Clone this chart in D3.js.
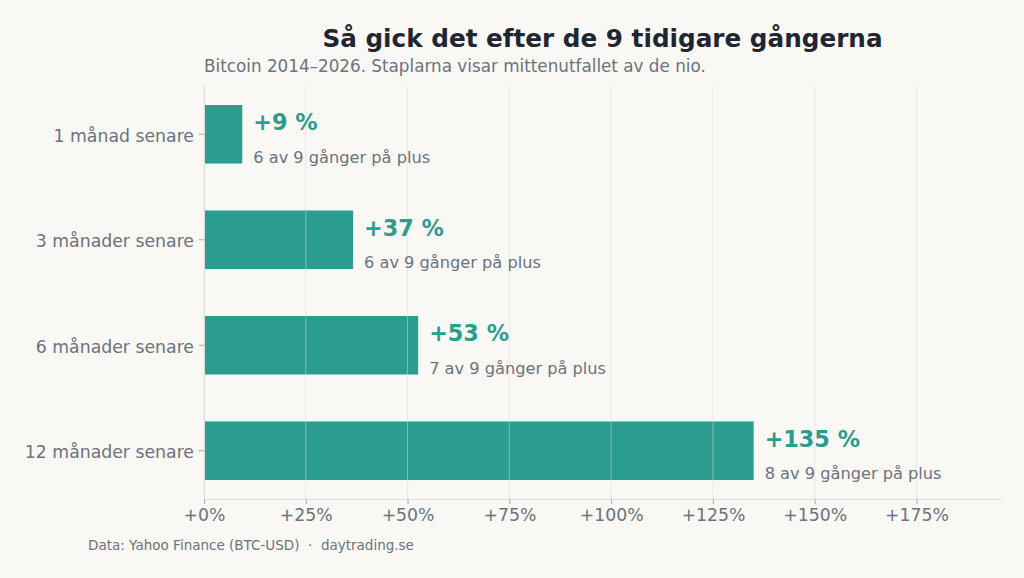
<!DOCTYPE html>
<html>
<head>
<meta charset="utf-8">
<script src="https://cdn.jsdelivr.net/npm/d3@7"></script>
<style>
  html, body { margin: 0; padding: 0; background: #f9f8f5; }
  svg { display: block; font-family: "DejaVu Sans", sans-serif; }
</style>
</head>
<body>
<svg id="chart"></svg>
<script>
// data
const categories = ["1 månad senare", "3 månader senare", "6 månader senare", "12 månader senare"];
const medianReturns = [9.4, 36.6, 52.6, 135.0];
const positiveCounts = [6, 6, 7, 8];
const totalCount = 9;
const xTicks = [0, 25, 50, 75, 100, 125, 150, 175];

const width = 1024, height = 578;
const margin = { top: 86, right: 23, bottom: 79, left: 204 };
const innerW = width - margin.left - margin.right;
const innerH = height - margin.top - margin.bottom;

const teal = "#2a9d8f";
const grey = "#6b7280";

const svg = d3.select("#chart").attr("width", width).attr("height", height);

svg.append("rect").attr("width", width).attr("height", height).attr("fill", "#f9f8f5");

// titel
svg.append("text")
  .attr("x", margin.left + innerW / 2)
  .attr("y", 47)
  .attr("text-anchor", "middle")
  .attr("font-size", 24.7)
  .attr("font-weight", "bold")
  .attr("fill", "#1f2633")
  .text("Så gick det efter de 9 tidigare gångerna");

svg.append("text")
  .attr("x", margin.left)
  .attr("y", 72)
  .attr("font-size", 16.8)
  .attr("fill", grey)
  .text("Bitcoin 2014–2026. Staplarna visar mittenutfallet av de nio.");

const g = svg.append("g").attr("transform", `translate(${margin.left},${margin.top})`);

// skalor
const x = d3.scaleLinear()
  .domain([0, d3.max(medianReturns) * 1.45])
  .range([0, innerW]);

const y = d3.scaleBand()
  .domain(categories)
  .range([0, innerH])
  .paddingInner(0.445)
  .paddingOuter(0.18);

const rows = categories.map((c, i) => ({
  cat: c, val: medianReturns[i], pos: positiveCounts[i]
}));

// staplar
g.selectAll("rect.bar")
  .data(rows)
  .join("rect")
  .attr("class", "bar")
  .attr("x", 0)
  .attr("y", d => y(d.cat))
  .attr("width", d => x(d.val))
  .attr("height", y.bandwidth())
  .attr("fill", teal);

// rutnät ovanpå staplarna
g.selectAll("line.grid")
  .data(xTicks)
  .join("line")
  .attr("class", "grid")
  .attr("x1", d => x(d)).attr("x2", d => x(d))
  .attr("y1", 0).attr("y2", innerH)
  .attr("stroke", "#d9d9d9")
  .attr("stroke-opacity", 0.5)
  .attr("stroke-width", 1);

// axlar
const xAxis = d3.axisBottom(x)
  .tickValues(xTicks)
  .tickFormat(d => `+${d}%`)
  .tickSize(5)
  .tickSizeOuter(0)
  .tickPadding(4.5);

const yAxis = d3.axisLeft(y)
  .tickSize(5)
  .tickSizeOuter(0)
  .tickPadding(5);

const xAxisG = g.append("g").attr("transform", `translate(0,${innerH})`).call(xAxis);
const yAxisG = g.append("g").call(yAxis);

[xAxisG, yAxisG].forEach(a => {
  a.select(".domain").attr("stroke", "#dcdcdc");
  a.selectAll(".tick line").attr("stroke", "#a8adb5");
  a.selectAll(".tick text")
    .attr("font-family", "DejaVu Sans, sans-serif")
    .attr("font-size", 17.3)
    .attr("fill", grey);
});
yAxisG.selectAll(".tick text").attr("dy", "0.42em");

// etiketter
const lab = g.selectAll("g.lab")
  .data(rows)
  .join("g")
  .attr("class", "lab")
  .attr("transform", d => `translate(${x(d.val) + 11},${y(d.cat) + y.bandwidth() / 2})`);

lab.append("text")
  .attr("y", -4)
  .attr("font-size", 22.3)
  .attr("font-weight", "bold")
  .attr("fill", teal)
  .text(d => `+${Math.round(d.val)} %`);

lab.append("text")
  .attr("y", 28.5)
  .attr("font-size", 16.2)
  .attr("fill", grey)
  .text(d => `${d.pos} av ${totalCount} gånger på plus`);

// källa
svg.append("text")
  .attr("x", 88)
  .attr("y", 550)
  .attr("font-size", 13.5)
  .attr("fill", grey)
  .text("Data: Yahoo Finance (BTC-USD)  ·  daytrading.se")
  .style("white-space", "pre");
</script>
</body>
</html>
